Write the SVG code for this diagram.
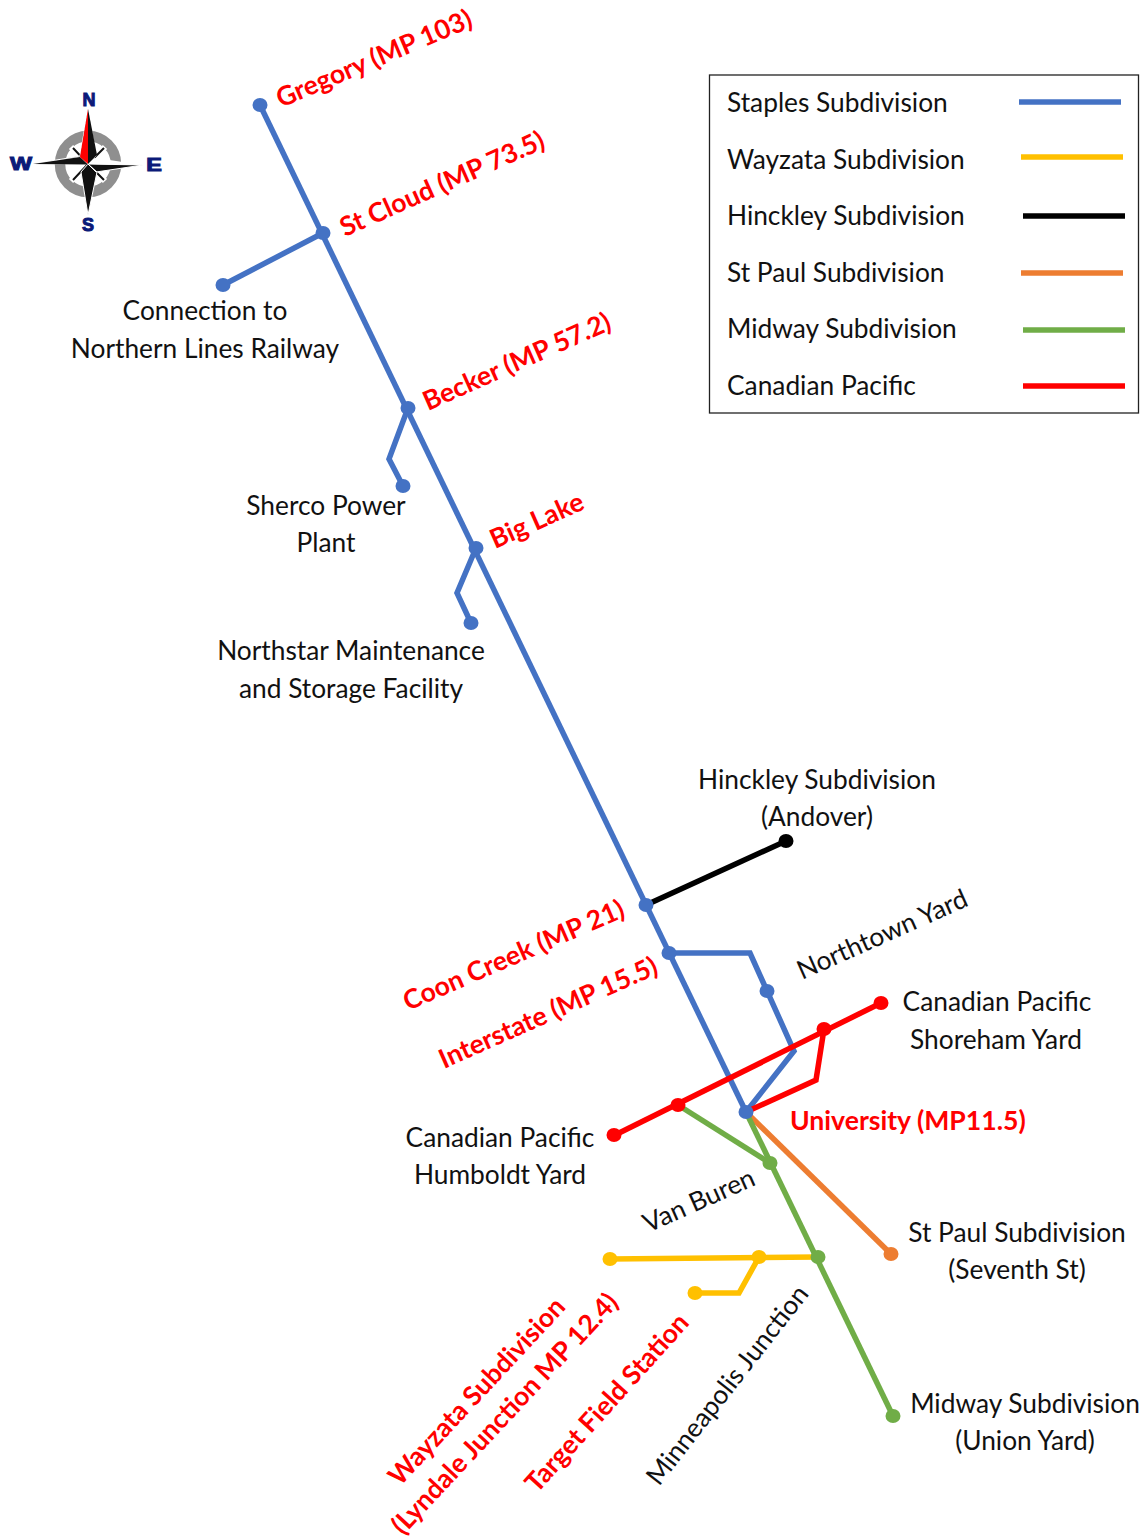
<svg xmlns="http://www.w3.org/2000/svg" width="1146" height="1539" viewBox="0 0 1146 1539">
<style>
text{font-family:"Lato","Noto Sans",sans-serif;font-size:26.300px;fill:#111}
.r{fill:#f00;font-weight:700;font-size:26.600px}
.m{text-anchor:middle}
.c{font-family:"Liberation Sans",sans-serif;font-weight:700;font-size:18px;fill:#0b1a78;text-anchor:middle;stroke:#0b1a78;stroke-width:1}
.l{fill:none;stroke-width:5.500;stroke-linecap:butt;stroke-linejoin:miter}
.b{stroke:#4472c4}.y{stroke:#ffc000}.k{stroke:#000}.o{stroke:#ed7d31}.g{stroke:#70ad47}.x{stroke:#f00}
.fb{fill:#4472c4}.fy{fill:#ffc000}.fk{fill:#000}.fo{fill:#ed7d31}.fg{fill:#70ad47}.fx{fill:#f00}
</style>
<rect width="1146" height="1539" fill="#fff"/>
<g id="connectors">
<path class="l g" d="M678 1105L770 1163"/>
<path class="l o" d="M746 1112L891 1254"/>
<path class="l g" d="M746 1112L893 1416"/>
<path class="l y" d="M610 1259L818 1257"/>
<path class="l y" d="M759 1257L739 1293L695 1293"/>
<path class="l k" d="M646 905L786 841"/>
<path class="l b" d="M260 105L746 1112"/>
<path class="l b" d="M323 233L223 285"/>
<path class="l b" d="M408 408L389 459L403 486"/>
<path class="l b" d="M476 548L457 593L471 623"/>
<path class="l b" d="M669 953L750 953L794 1051L746 1112"/>
<path class="l x" d="M614 1135.500L881 1003"/>
<path class="l x" d="M824 1029L816 1080L746 1112"/>
</g>
<g id="n-gregory"><ellipse class="fb" cx="260" cy="105" rx="7.500" ry="7"/><text class="r" transform="translate(281 108) rotate(-23)">Gregory (MP 103)</text></g>
<g id="n-stcloud"><ellipse class="fb" cx="323" cy="233" rx="7.500" ry="7"/><text class="r" transform="translate(345 237) rotate(-24)">St Cloud (MP 73.5)</text></g>
<g id="n-northern"><ellipse class="fb" cx="223" cy="285" rx="7.500" ry="7"/><text class="m" x="205" y="320">Connection to</text><text class="m" x="205" y="358">Northern Lines Railway</text></g>
<g id="n-becker"><ellipse class="fb" cx="408" cy="408" rx="7.500" ry="7"/><text class="r" transform="translate(428 411) rotate(-24)">Becker (MP 57.2)</text></g>
<g id="n-sherco"><ellipse class="fb" cx="403" cy="486" rx="7.500" ry="7"/><text class="m" x="326" y="515">Sherco Power</text><text class="m" x="326" y="552">Plant</text></g>
<g id="n-biglake"><ellipse class="fb" cx="476" cy="548" rx="7.500" ry="7"/><text class="r" transform="translate(495 549) rotate(-24)">Big Lake</text></g>
<g id="n-northstar"><ellipse class="fb" cx="471" cy="623" rx="7.500" ry="7"/><text class="m" x="351" y="660">Northstar Maintenance</text><text class="m" x="351" y="698">and Storage Facility</text></g>
<g id="n-hinckley"><ellipse class="fk" cx="786" cy="841" rx="7.500" ry="7"/><text class="m" x="817" y="789">Hinckley Subdivision</text><text class="m" x="817" y="826">(Andover)</text></g>
<g id="n-coon"><ellipse class="fb" cx="646" cy="905" rx="7.500" ry="7"/><text class="r" transform="translate(408 1011) rotate(-23.500)">Coon Creek (MP 21)</text></g>
<g id="n-interstate"><ellipse class="fb" cx="669" cy="953" rx="7.500" ry="7"/><text class="r" transform="translate(444 1069) rotate(-24)">Interstate (MP 15.5)</text></g>
<g id="n-northtown"><ellipse class="fb" cx="767" cy="991" rx="7.500" ry="7"/><text transform="translate(802 980) rotate(-24)">Northtown Yard</text></g>
<g id="n-shoreham"><ellipse class="fx" cx="881" cy="1003" rx="7.500" ry="7"/><ellipse class="fx" cx="824" cy="1029" rx="7.500" ry="7"/><text class="m" x="997" y="1011">Canadian Pacific</text><text class="m" x="996" y="1049">Shoreham Yard</text></g>
<g id="n-humboldt"><ellipse class="fx" cx="614" cy="1135" rx="7.500" ry="7"/><ellipse class="fx" cx="678" cy="1105" rx="7.500" ry="7"/><text class="m" x="500" y="1147">Canadian Pacific</text><text class="m" x="500" y="1184">Humboldt Yard</text></g>
<g id="n-university"><ellipse class="fb" cx="746" cy="1112" rx="7.500" ry="7"/><text class="r" x="790" y="1130">University (MP11.5)</text></g>
<g id="n-vanburen"><ellipse class="fg" cx="770" cy="1163" rx="7.500" ry="7"/><text transform="translate(648 1233) rotate(-24)">Van Buren</text></g>
<g id="n-stpaul"><ellipse class="fo" cx="891" cy="1254" rx="7.500" ry="7"/><text class="m" x="1017" y="1242">St Paul Subdivision</text><text class="m" x="1017" y="1279">(Seventh St)</text></g>
<g id="n-wayzata"><ellipse class="fy" cx="610" cy="1259" rx="7.500" ry="7"/><ellipse class="fy" cx="759" cy="1257" rx="7.500" ry="7"/><text class="r" transform="translate(400 1487) rotate(-47)">Wayzata Subdivision</text><text class="r" transform="translate(403 1536) rotate(-47)">(Lyndale Junction MP 12.4)</text></g>
<g id="n-target"><ellipse class="fy" cx="695" cy="1293" rx="7.500" ry="7"/><text class="r" transform="translate(537 1494) rotate(-48)">Target Field Station</text></g>
<g id="n-minneapolis"><ellipse class="fg" cx="818" cy="1257" rx="7.500" ry="7"/><text transform="translate(659 1487) rotate(-52)">Minneapolis Junction</text></g>
<g id="n-midway"><ellipse class="fg" cx="893" cy="1416" rx="7.500" ry="7"/><text class="m" x="1025" y="1413">Midway Subdivision</text><text class="m" x="1025" y="1450">(Union Yard)</text></g>
<g id="legend">
<rect x="709.500" y="75" width="429" height="338" fill="#fff" stroke="#222" stroke-width="1.300"/>
<text x="727" y="112">Staples Subdivision</text><path class="l b" d="M1019 102H1121"/>
<text x="727" y="169">Wayzata Subdivision</text><path class="l y" d="M1021 157H1123"/>
<text x="727" y="225">Hinckley Subdivision</text><path class="l k" d="M1023 216H1125"/>
<text x="727" y="282">St Paul Subdivision</text><path class="l o" d="M1021 273H1123"/>
<text x="727" y="338">Midway Subdivision</text><path class="l g" d="M1023 330H1125"/>
<text x="727" y="395">Canadian Pacific</text><path class="l x" d="M1023 386H1125"/>
</g>
<g id="compass">
<circle cx="88" cy="164" r="28" fill="none" stroke="#8f8f8f" stroke-width="10.500"/>
<path d="M88 164L71 147M88 164L105 147M88 164L71 181M88 164L105 181" stroke="#fff" stroke-width="6"/>
<path d="M88 164L73 148M88 164L104 148M88 164L73 180M88 164L104 180" stroke="#111" stroke-width="2"/>
<path d="M33 164L80 156L88 164L96 156L88 109L80 156L88 164L143 165L96 172L88 164L97 172L88 215L81 172L88 164L80 157Z" fill="#111" stroke="#fff" stroke-width="1"/>
<path d="M33 164.500L88 164L143 165L96 158Z" fill="#fff"/>
<path d="M33 164L80 157L88 164.500Z" fill="#111"/>
<path d="M88 109L97 155L88 164Z" fill="#111"/>
<path d="M88 109L80 157L88 164Z" fill="#f00"/>
<text class="c" x="89" y="106">N</text><text class="c" x="88" y="231">S</text><text class="c" transform="translate(21 170) scale(1.300 1)" x="0" y="0">W</text><text class="c" transform="translate(154 171) scale(1.300 1)" x="0" y="0">E</text>
</g>
</svg>
